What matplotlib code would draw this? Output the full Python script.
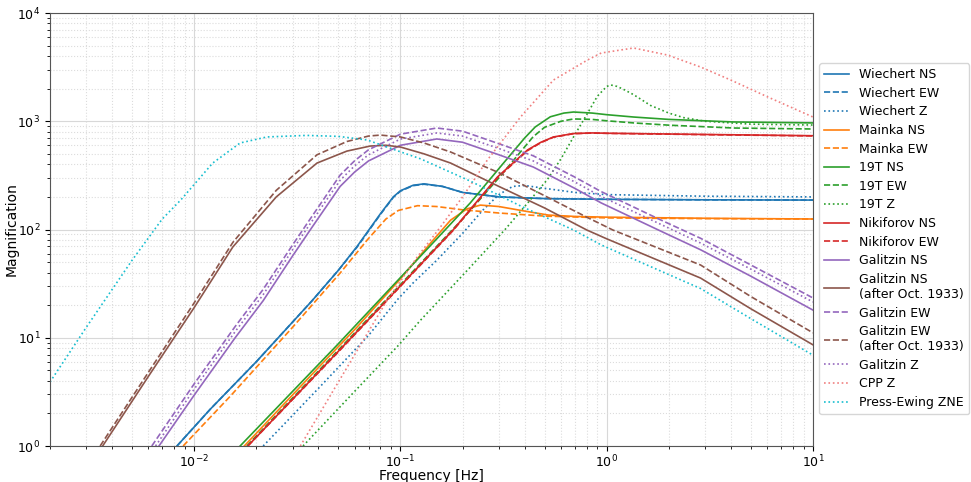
import matplotlib
matplotlib.use("Agg")
import matplotlib.pyplot as plt

# ---------------- data ----------------
wiechert_ns_f = [0.00825, 0.012, 0.02, 0.0373, 0.05, 0.0617, 0.08, 0.0923, 0.1, 0.115, 0.13, 0.16, 0.2, 0.3, 0.5, 1.0, 3.0, 10.0]
wiechert_ns_m = [1.0, 2.2, 6.0, 22, 42, 70, 140, 200, 228, 256, 264, 250, 220, 200, 193, 190, 188, 187]
wiechert_ew_f = [0.00825, 0.012, 0.02, 0.0373, 0.05, 0.0617, 0.08, 0.0923, 0.1, 0.115, 0.13, 0.16, 0.2, 0.3, 0.5, 1.0, 3.0, 10.0]
wiechert_ew_m = [1.0, 2.2, 6.0, 22, 42, 69, 138, 198, 226, 254, 262, 250, 220, 200, 193, 190, 188, 187]
wiechert_z_f = [0.0216, 0.04, 0.07, 0.0977, 0.115, 0.15, 0.2, 0.25, 0.3, 0.35, 0.4, 0.5, 0.7, 1.0, 3.0, 10.0]
wiechert_z_m = [1.0, 3.4, 10.5, 23, 32, 52, 92, 150, 210, 250, 255, 240, 220, 210, 203, 200]

mainka_ns_f = [0.0175, 0.04, 0.0617, 0.1, 0.14, 0.175, 0.21, 0.244, 0.3, 0.4, 0.52, 0.7, 1.0, 3.0, 10.0]
mainka_ns_m = [1.0, 5.3, 12.6, 35, 75, 122, 155, 168, 163, 148, 136, 132, 130, 127, 125]
mainka_ew_f = [0.00884, 0.015, 0.03, 0.051, 0.069, 0.085, 0.0977, 0.121, 0.15, 0.2, 0.3, 0.5, 1.0, 3.0, 10.0]
mainka_ew_m = [1.0, 2.9, 12.5, 39.6, 80, 125, 150, 166, 163, 152, 142, 133, 128, 126, 125]

t19_ns_f = [0.0167, 0.05, 0.1, 0.15, 0.218, 0.316, 0.4, 0.45, 0.533, 0.62, 0.69, 0.85, 1.0, 1.35, 2.0, 4.13, 10.0]
t19_ns_m = [1.0, 8.8, 36, 82, 176, 411, 700, 885, 1100, 1190, 1217, 1190, 1150, 1094, 1040, 985, 965]
t19_ew_f = [0.018, 0.05, 0.1, 0.15, 0.2, 0.3, 0.44, 0.5, 0.6, 0.69, 0.85, 1.0, 1.35, 2.0, 4.13, 10.0]
t19_ew_m = [1.0, 7.7, 31, 70, 125, 300, 720, 880, 1000, 1050, 1040, 1010, 965, 920, 866, 848]
t19_z_f = [0.0337, 0.06, 0.0977, 0.125, 0.211, 0.32, 0.413, 0.516, 0.6, 0.7, 0.8, 0.9, 1.0, 1.05, 1.12, 1.2, 1.35, 1.5, 1.63, 2.0, 2.36, 3.0, 5.0, 10.0]
t19_z_m = [1.0, 3.2, 8.5, 14.5, 42, 99, 175, 290, 450, 750, 1150, 1700, 2100, 2160, 2100, 1980, 1760, 1550, 1400, 1190, 1080, 1000, 940, 923]

nikiforov_ns_f = [0.0182, 0.05, 0.0977, 0.18, 0.295, 0.413, 0.48, 0.552, 0.69, 0.85, 1.0, 3.0, 10.0]
nikiforov_ns_m = [1.0, 7.5, 28.8, 99, 305, 543, 640, 716, 770, 780, 775, 755, 735]
nikiforov_ew_f = [0.0182, 0.05, 0.0977, 0.18, 0.295, 0.413, 0.48, 0.552, 0.69, 0.85, 1.0, 3.0, 10.0]
nikiforov_ew_m = [1.0, 7.4, 28.5, 98, 300, 535, 635, 712, 768, 778, 773, 752, 732]

galitzin_ns_f = [0.00675, 0.01, 0.0158, 0.0216, 0.03, 0.0365, 0.051, 0.06, 0.07, 0.1, 0.15, 0.2, 0.3, 0.44, 0.7, 0.94, 1.82, 2.85, 5.0, 10.0]
galitzin_ns_m = [1.0, 2.95, 10, 22, 57, 99, 250, 340, 430, 600, 686, 640, 490, 378, 240, 176, 97, 65, 37, 18]
galitzin_ns33_f = [0.0036, 0.006, 0.01, 0.0154, 0.025, 0.0394, 0.055, 0.0713, 0.085, 0.1, 0.13, 0.175, 0.3, 0.5, 0.8, 1.0, 2.85, 5.0, 10.0]
galitzin_ns33_m = [1.0, 4.4, 19, 69, 200, 411, 530, 590, 600, 578, 500, 411, 250, 158, 99, 82, 35.6, 18.5, 8.6]
galitzin_ew_f = [0.00623, 0.01, 0.0158, 0.0216, 0.03, 0.0365, 0.051, 0.06, 0.07, 0.1, 0.15, 0.2, 0.3, 0.44, 0.7, 0.94, 1.82, 2.85, 5.0, 10.0]
galitzin_ew_m = [1.0, 3.75, 12.7, 28, 72, 125, 318, 432, 545, 760, 866, 810, 620, 480, 305, 224, 123, 83, 47, 23.3]
galitzin_ew33_f = [0.0035, 0.006, 0.01, 0.0154, 0.025, 0.0394, 0.055, 0.07, 0.08, 0.1, 0.13, 0.175, 0.3, 0.5, 0.8, 1.07, 2.85, 5.0, 10.0]
galitzin_ew33_m = [1.0, 4.8, 21, 76, 230, 490, 650, 730, 745, 716, 630, 520, 335, 205, 130, 99, 47, 24, 11.1]
galitzin_z_f = [0.0065, 0.01, 0.0158, 0.0216, 0.03, 0.0365, 0.051, 0.06, 0.07, 0.1, 0.15, 0.2, 0.3, 0.44, 0.7, 0.94, 1.82, 2.85, 5.0, 10.0]
galitzin_z_m = [1.0, 3.35, 11.4, 25, 65, 113, 285, 388, 490, 685, 779, 730, 560, 430, 275, 202, 112, 75, 43, 21.4]

cpp_z_f = [0.0327, 0.05, 0.0863, 0.12, 0.156, 0.2, 0.264, 0.382, 0.552, 0.807, 0.94, 1.35, 1.97, 2.85, 4.0, 6.04, 10.0]
cpp_z_m = [1.0, 3.9, 22.3, 55, 105, 200, 439, 1094, 2404, 3680, 4270, 4750, 4090, 3170, 2400, 1675, 1094]

press_ewing_f = [0.002, 0.003, 0.005, 0.007, 0.0086, 0.0123, 0.0167, 0.0225, 0.035, 0.05, 0.069, 0.0977, 0.125, 0.218, 0.382, 0.69, 0.94, 2.85, 5.0, 10.0]
press_ewing_m = [3.9, 12.5, 52, 125, 187, 411, 630, 716, 740, 725, 671, 530, 450, 280, 165, 99, 72, 28.5, 15, 6.9]

labels = ["Wiechert NS", "Wiechert EW", "Wiechert Z", "Mainka NS", "Mainka EW",
          "19T NS", "19T EW", "19T Z", "Nikiforov NS", "Nikiforov EW",
          "Galitzin NS", "Galitzin NS\n(after Oct. 1933)", "Galitzin EW",
          "Galitzin EW\n(after Oct. 1933)", "Galitzin Z", "CPP Z", "Press-Ewing ZNE"]

series = [
    (wiechert_ns_f, wiechert_ns_m, "#1f77b4", "-"),
    (wiechert_ew_f, wiechert_ew_m, "#1f77b4", "--"),
    (wiechert_z_f, wiechert_z_m, "#1f77b4", ":"),
    (mainka_ns_f, mainka_ns_m, "#ff7f0e", "-"),
    (mainka_ew_f, mainka_ew_m, "#ff7f0e", "--"),
    (t19_ns_f, t19_ns_m, "#2ca02c", "-"),
    (t19_ew_f, t19_ew_m, "#2ca02c", "--"),
    (t19_z_f, t19_z_m, "#2ca02c", ":"),
    (nikiforov_ns_f, nikiforov_ns_m, "#d62728", "-"),
    (nikiforov_ew_f, nikiforov_ew_m, "#d62728", "--"),
    (galitzin_ns_f, galitzin_ns_m, "#9467bd", "-"),
    (galitzin_ns33_f, galitzin_ns33_m, "#8c564b", "-"),
    (galitzin_ew_f, galitzin_ew_m, "#9467bd", "--"),
    (galitzin_ew33_f, galitzin_ew33_m, "#8c564b", "--"),
    (galitzin_z_f, galitzin_z_m, "#9467bd", ":"),
    (cpp_z_f, cpp_z_m, "#f08080", ":"),
    (press_ewing_f, press_ewing_m, "#17becf", ":"),
]

# ---------------- figure ----------------
fig = plt.figure(figsize=(9.71, 4.82), dpi=100)
ax = fig.add_axes([50 / 971, 1 - 446 / 482, 763 / 971, 433 / 482])

for (f, m, c, ls), lab in zip(series, labels):
    ax.plot(f, m, color=c, ls=ls, lw=1.2, label=lab)

ax.set_xscale("log")
ax.set_yscale("log")
ax.set_xlim(0.002, 10)
ax.set_ylim(1, 1e4)
ax.grid(True, which="major", color="#d8d8d8", ls="-", lw=0.8)
ax.grid(True, which="minor", color="#dcdcdc", ls=":", lw=0.8)
ax.set_axisbelow(True)
ax.tick_params(labelsize=9)
ax.tick_params(axis="x", pad=2)
ax.set_xlabel("Frequency [Hz]", fontsize=10)
ax.set_ylabel("Magnification", fontsize=10)
ax.xaxis.set_label_coords(0.5, -0.053)
ax.yaxis.set_label_coords(-0.041, 0.5)
for s in ax.spines.values():
    s.set_color("#555555")

ax.legend(loc="center left", bbox_to_anchor=(1.0, 0.479), fontsize=9,
          labelspacing=0.45, handlelength=2.0, frameon=True)

fig.savefig("out.png", dpi=100)
